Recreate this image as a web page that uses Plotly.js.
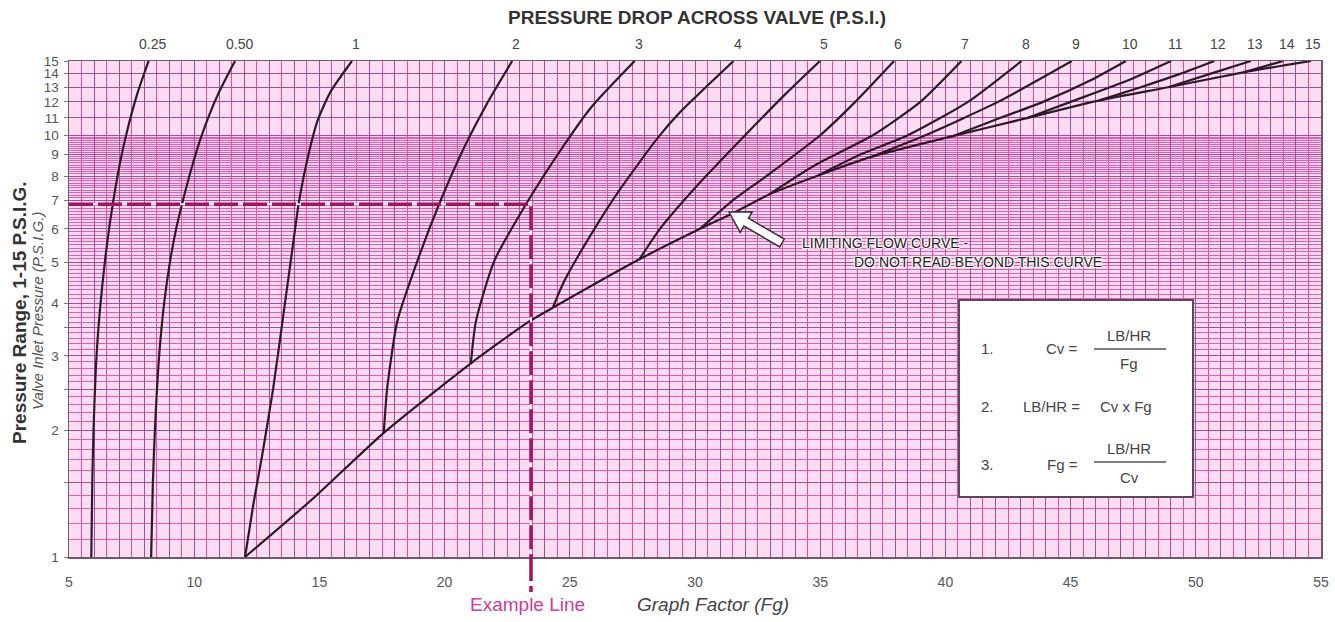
<!DOCTYPE html>
<html>
<head>
<meta charset="utf-8">
<script src="https://cdn.plot.ly/plotly-3.0.1.min.js"></script>
<style>html,body{margin:0;padding:0;background:#fff;}#chart{width:1335px;height:622px;}</style>
</head>
<body>
<div id="chart"></div>
<script>
// ---------------- DATA ----------------
// Pressure-drop curves: inlet pressure P (P.S.I.G.) vs graph factor Fg
const dp0_25_P  = [1, 1.5, 2, 3, 4, 5, 6, 7, 8.5, 10, 12.5, 15];
const dp0_25_Fg = [5.89, 5.93, 5.98, 6.1, 6.26, 6.43, 6.6, 6.77, 7.02, 7.28, 7.72, 8.18];
const dp0_50_P  = [1, 1.5, 2, 3, 4, 5, 6, 7, 8.5, 10, 12.5, 15];
const dp0_50_Fg = [8.28, 8.35, 8.43, 8.6, 8.8, 9.03, 9.28, 9.55, 9.93, 10.3, 10.95, 11.63];
const dp1_P  = [1, 1.33, 1.75, 2.5, 3.6, 5, 6.86, 8.5, 10.8, 12.7, 15];
const dp1_Fg = [12.03, 12.36, 12.72, 13.15, 13.52, 13.85, 14.17, 14.47, 14.92, 15.45, 16.3];
const dp2_P  = [1.97, 2.52, 3.62, 5.03, 6.86, 9.35, 11.85, 15];
const dp2_Fg = [17.57, 17.71, 18.11, 18.91, 19.78, 20.78, 21.68, 22.7];
const dp3_P  = [2.88, 3.62, 5.03, 6.86, 9.01, 11.64, 15];
const dp3_Fg = [21.05, 21.25, 21.98, 23.25, 24.52, 25.85, 27.59];
const dp4_P  = [3.9, 4.51, 5.82, 7.51, 9.87, 11.32, 15];
const dp4_Fg = [24.32, 24.78, 25.85, 27.05, 28.52, 29.39, 31.54];
const dp5_P  = [5.08, 6, 7.5, 10, 12.5, 15];
const dp5_Fg = [27.78, 28.6, 30.0, 32.0, 33.6, 34.99];
const dp6_P  = [6, 7, 8, 10, 12, 15];
const dp6_Fg = [30.2, 31.5, 32.85, 35.0, 36.4, 37.95];
const dp7_P  = [7.24, 8.5, 10, 12, 15];
const dp7_Fg = [32.96, 34.8, 37.1, 39.0, 40.64];
const dp8_P  = [8.03, 9, 10, 12, 15];
const dp8_Fg = [34.92, 36.6, 38.5, 40.9, 43.04];
const dp9_P  = [8.9, 10, 12, 15];
const dp9_Fg = [37.07, 39.2, 42.1, 45.05];
const dp10_P  = [9.95, 11, 12, 13.5, 15];
const dp10_Fg = [40.29, 42.2, 43.9, 45.8, 47.21];
const dp11_P  = [11, 12, 13.5, 15];
const dp11_Fg = [43.3, 45.0, 47.3, 49.01];
const dp12_P  = [12.1, 13, 14, 15];
const dp12_Fg = [46.15, 47.8, 49.4, 50.74];
const dp13_P  = [13, 14, 15];
const dp13_Fg = [48.9, 50.6, 52.2];
const dp14_P  = [14.1, 15];
const dp14_Fg = [51.9, 53.49];
// Limiting flow curve
const limit_P  = [1, 1.38, 1.97, 2.88, 3.62, 3.9, 5.08, 6.0, 6.54, 7.24, 8.03, 8.9, 9.95, 11.0, 12.1, 13.0, 14.1, 15];
const limit_Fg = [12.03, 14.77, 17.57, 21.05, 23.38, 24.32, 27.78, 30.2, 31.53, 32.96, 34.92, 37.07, 40.29, 43.3, 46.15, 48.9, 51.9, 54.6];
// Labels at the top of each curve (pressure drop, P.S.I.)
const dropLabels = ['0.25','0.50','1','2','3','4','5','6','7','8','9','10','11','12','13','14','15'];
// Example line
const exampleFg = [5, 23.45, 23.45];
const exampleP  = [6.86, 6.86, 1];
// Axis tick labels
const xTickVals = [5,10,15,20,25,30,35,40,45,50,55];
const yTickLabels = ['1','2','3','4','5','6','7','8','9','10','11','12','13','14','15'];

// ---------------- LAYOUT HELPERS ----------------
const L = 69, T = 61, R = 14, B = 65, WID = 1335, HGT = 622;
const W = WID - L - R, H = HGT - T - B;
const px = x => (x - L) / W;
const py = y => (T + H - y) / H;
const FONT = 'Liberation Sans, Arial, Helvetica, sans-serif';

const curves = [
  [dp0_25_Fg, dp0_25_P], [dp0_50_Fg, dp0_50_P], [dp1_Fg, dp1_P], [dp2_Fg, dp2_P],
  [dp3_Fg, dp3_P], [dp4_Fg, dp4_P], [dp5_Fg, dp5_P], [dp6_Fg, dp6_P], [dp7_Fg, dp7_P],
  [dp8_Fg, dp8_P], [dp9_Fg, dp9_P], [dp10_Fg, dp10_P], [dp11_Fg, dp11_P], [dp12_Fg, dp12_P],
  [dp13_Fg, dp13_P], [dp14_Fg, dp14_P], [limit_Fg, limit_P]
];

const traces = [];
curves.forEach(c => traces.push({
  x: c[0], y: c[1], mode: 'lines', hoverinfo: 'skip',
  line: {color: '#2a1a28', width: 2.2, shape: 'spline', smoothing: 0.6}
}));
// example line (white underlay + dashed)
traces.push({x: exampleFg, y: exampleP, mode: 'lines', hoverinfo: 'skip',
  line: {color: '#ffffff', width: 2}});
traces.push({x: exampleFg, y: exampleP, mode: 'lines', hoverinfo: 'skip',
  line: {color: '#a6135f', width: 3.5, dash: '24px,5px'}});

// grid values
const xAllInts = [], xHalves = [];
for (let v = 5; v <= 55; v++) { xAllInts.push(v); if (v < 55) xHalves.push(v + 0.5); }
const xText = xAllInts.map(v => xTickVals.indexOf(v) >= 0 ? String(v) : '');
const yMajor = [1, 1.5, 2, 2.5, 3, 3.5, 4, 5, 6, 7, 8, 9, 10, 11, 12, 13, 14, 15];
const yText = yMajor.map(v => yTickLabels.indexOf(String(v)) >= 0 ? String(v) : '');
const yMinor = [];
for (let i = 11; i < 100; i++) { const v = i / 10; if (yMajor.indexOf(v) < 0) yMinor.push(v); }

// annotations
const ann = [];
curves.slice(0, 16).forEach((c, i) => ann.push({
  x: c[0][c[0].length - 1], y: 1, xref: 'x', yref: 'paper', xanchor: 'center', yanchor: 'bottom',
  yshift: 7, xshift: 4, text: dropLabels[i], showarrow: false,
  font: {family: FONT, size: 14, color: '#444'}
}));
ann.push({x: limit_Fg[limit_Fg.length - 1], y: 1, xref: 'x', yref: 'paper', xanchor: 'center', yanchor: 'bottom',
  yshift: 7, xshift: 2, text: dropLabels[16], showarrow: false,
  font: {family: FONT, size: 14, color: '#444'}});

function txt(x, y, text, size, opts) {
  return Object.assign({x: px(x), y: py(y), xref: 'paper', yref: 'paper', text: text,
    xanchor: 'center', yanchor: 'middle',
    showarrow: false, font: {family: FONT, size: size, color: '#444'}}, opts || {});
}
ann.push(txt(697, 17, '<b>PRESSURE DROP ACROSS VALVE (P.S.I.)</b>', 19, {font: {family: FONT, size: 19, color: '#333'}}));
ann.push(txt(19, 313, '<b>Pressure Range, 1-15 P.S.I.G.</b>', 19, {textangle: -90, font: {family: FONT, size: 19, color: '#333'}}));
ann.push(txt(37, 311, '<i>Valve Inlet Pressure (P.S.I.G.)</i>', 15, {textangle: -90, font: {family: FONT, size: 15, color: '#555'}}));
ann.push(txt(527, 604, 'Example Line', 19, {font: {family: FONT, size: 19, color: '#d2399a'}}));
ann.push(txt(713, 604, '<i>Graph Factor (Fg)</i>', 19, {font: {family: FONT, size: 19, color: '#444'}}));
const shadow = '1px 1px 1px #fff, -1px -1px 1px #fff, 1px -1px 1px #fff, -1px 1px 1px #fff';
ann.push(txt(800, 243, 'LIMITING FLOW CURVE -', 14, {xanchor: 'left', font: {family: FONT, size: 14, color: '#222', shadow: shadow}}));
ann.push(txt(852, 262, 'DO NOT READ BEYOND THIS CURVE', 14, {xanchor: 'left', font: {family: FONT, size: 14, color: '#222', shadow: shadow}}));
// legend box texts
const LF = 15;
ann.push(txt(987, 349, '1.', LF));
ann.push(txt(1080, 349, 'Cv =', LF, {xanchor: 'right'}));
ann.push(txt(1129, 335, 'LB/HR', LF));
ann.push(txt(1129, 363, 'Fg', LF));
ann.push(txt(987, 407, '2.', LF));
ann.push(txt(1082, 407, 'LB/HR =', LF, {xanchor: 'right'}));
ann.push(txt(1126, 407, 'Cv x Fg', LF));
ann.push(txt(987, 464, '3.', LF));
ann.push(txt(1080, 464, 'Fg =', LF, {xanchor: 'right'}));
ann.push(txt(1129, 448, 'LB/HR', LF));
ann.push(txt(1129, 477, 'Cv', LF));

// block arrow geometry
const tip = [729, 212], tail = [782, 243];
let dx = tip[0] - tail[0], dy = tip[1] - tail[1];
const len = Math.hypot(dx, dy); const ux = dx / len, uy = dy / len; const nx = -uy, ny = ux;
const headLen = 20, headHalf = 12, shaftHalf = 4.5;
const bx = tip[0] - ux * headLen, by = tip[1] - uy * headLen;
const pts = [tip, [bx + nx * headHalf, by + ny * headHalf], [bx + nx * shaftHalf, by + ny * shaftHalf],
  [tail[0] + nx * shaftHalf, tail[1] + ny * shaftHalf], [tail[0] - nx * shaftHalf, tail[1] - ny * shaftHalf],
  [bx - nx * shaftHalf, by - ny * shaftHalf], [bx - nx * headHalf, by - ny * headHalf]];
const arrowPath = 'M' + pts.map(p => px(p[0]).toFixed(5) + ',' + py(p[1]).toFixed(5)).join('L') + 'Z';

const shapes = [
  {type: 'line', xref: 'x', yref: 'paper', x0: exampleFg[1], x1: exampleFg[1], y0: 0, y1: py(592),
   line: {color: '#ffffff', width: 2}},
  {type: 'line', xref: 'x', yref: 'paper', x0: exampleFg[1], x1: exampleFg[1], y0: 0, y1: py(592),
   line: {color: '#a6135f', width: 3.5, dash: '24px,5px'}},
  {type: 'rect', xref: 'paper', yref: 'paper', x0: px(959), x1: px(1193), y0: py(497), y1: py(300),
   fillcolor: '#ffffff', line: {color: '#5a4a58', width: 2}},
  {type: 'line', xref: 'paper', yref: 'paper', x0: px(1094), x1: px(1166), y0: py(349), y1: py(349),
   line: {color: '#555', width: 1.5}},
  {type: 'line', xref: 'paper', yref: 'paper', x0: px(1094), x1: px(1166), y0: py(462), y1: py(462),
   line: {color: '#555', width: 1.5}},
  {type: 'path', xref: 'paper', yref: 'paper', path: arrowPath, fillcolor: '#ffffff',
   line: {color: '#333', width: 1.5}}
];

const layout = {
  width: WID, height: HGT, margin: {l: L, r: R, t: T, b: B, pad: 0},
  paper_bgcolor: '#ffffff', plot_bgcolor: '#fcdcf1', showlegend: false,
  xaxis: {range: [5, 55], tickmode: 'array', tickvals: xAllInts, ticktext: xText,
    showgrid: true, gridcolor: '#a0509a', gridwidth: 1, zeroline: false,
    minor: {tickmode: 'array', tickvals: xHalves, showgrid: true, gridcolor: '#e94aa8', gridwidth: 1, ticks: ''},
    ticks: '', showline: true, mirror: true, linecolor: '#6e5a6c', linewidth: 1.5,
    tickfont: {family: FONT, size: 14, color: '#555'}, ticklabelstandoff: 12},
  yaxis: {type: 'log', range: [0, Math.log10(15)], tickmode: 'array', tickvals: yMajor, ticktext: yText,
    showgrid: true, gridcolor: '#a0509a', gridwidth: 1, zeroline: false,
    minor: {tickmode: 'array', tickvals: yMinor, showgrid: true, gridcolor: '#ea5aae', gridwidth: 1, ticks: ''},
    ticks: 'outside', ticklen: 4, tickcolor: '#777', showline: true, mirror: true, linecolor: '#6e5a6c', linewidth: 1.5,
    tickfont: {family: FONT, size: 13.5, color: '#555'}, ticklabelstandoff: 2},
  annotations: ann, shapes: shapes
};

Plotly.newPlot('chart', traces, layout, {displayModeBar: false, staticPlot: true});
</script>
</body>
</html>
